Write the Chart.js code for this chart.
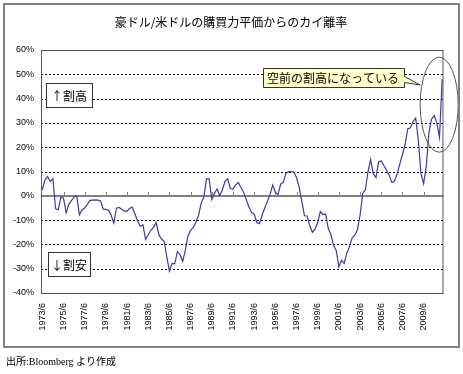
<!DOCTYPE html>
<html>
<head>
<meta charset="utf-8">
<script src="https://cdn.jsdelivr.net/npm/chart.js@4.4.0/dist/chart.umd.min.js"></script>
<style>
  html, body { margin: 0; padding: 0; background: #fff; }
</style>
</head>
<body>
<canvas id="pppChart" width="463" height="374"></canvas>
<script>
const chartTitle = '豪ドル/米ドルの購買力平価からのカイ離率';
const sourceNote = '出所:Bloomberg より作成';
const noteHigh = '↑割高';
const noteLow = '↓割安';
const calloutText = '空前の割高になっている';

// quarterly, starting 1973/6
const startYear = 1973;
const startMonth = 6;
const labelEvery = 8;

// deviation from PPP (%)
const deviation = [
    2.5, 6.6, 7.9, 6, 7, -5.3, -5.8, -0.5, -1, -7,
    -3.5, -2, -0.5, 0, -7.8, -5.8, -5, -3.5, -1.9, -1.8,
    -1.7, -1.8, -2.2, -5.5, -5.6, -6, -8, -11.2, -5.1, -4.8,
    -5.5, -6.3, -6.3, -5.1, -4.7, -7.5, -10.5, -12.5, -12, -18,
    -16, -14.2, -13, -11, -16, -17.8, -18.7, -25, -31, -27.8,
    -28, -23, -24.2, -27, -22.5, -16.5, -14.2, -13, -11, -8,
    -3, -0.5, 7, 7, -1.5, 1, 2.8, 0, 2.5, 6,
    7, 3, 2.8, 4.5, 5.5, 3.4, 1.5, -1.5, -4.5, -6.8,
    -7.5, -11, -11.5, -8, -5, -2.3, 0.5, 4.5, 1.5, 0.5,
    4.8, 5.5, 9.2, 10, 10, 9.8, 7.5, 3.5, -2.2, -8.2,
    -8.3, -12.2, -15, -13.7, -11, -6.5, -7.7, -7.5, -13.5, -16,
    -20.5, -22.5, -29.3, -26.5, -27.8, -23.5, -21, -17.3, -16.2, -14,
    -8, 1, 2.5, 10, 15, 9, 7.5, 14, 14.3, 12.5,
    10.5, 8.5, 5.5, 6, 9, 13, 17, 21, 27.5, 28,
    30.5, 32, 23, 9, 5, 12, 26, 31.5, 33, 30,
    24, 48
];

const yMin = -40;
const yMax = 60;
const gridValues = [50, 40, 30, 20, 10, -10, -20, -30];

const quarters = deviation.map((_, i) => {
    const m = startMonth - 1 + i * 3;
    return (startYear + Math.floor(m / 12)) + '/' + (m % 12 + 1);
});

const jpFont = '"Noto Sans CJK JP", sans-serif';

function labelBox(ctx, text, x, y, w, h) {
    ctx.fillStyle = '#fff';
    ctx.fillRect(x, y, w, h);
    ctx.strokeStyle = '#333';
    ctx.lineWidth = 1;
    ctx.strokeRect(x + 0.5, y + 0.5, w, h);
    ctx.fillStyle = '#000';
    ctx.font = '12px ' + jpFont;
    ctx.textAlign = 'center';
    ctx.textBaseline = 'middle';
    ctx.fillText(text, x + w / 2, y + h / 2 + 1);
}

const decor = {
    id: 'decor',
    beforeDatasetsDraw(chart) {
        const { ctx, chartArea: a, scales: { x, y } } = chart;
        ctx.save();
        // dashed grid
        ctx.strokeStyle = '#000';
        ctx.lineWidth = 1;
        ctx.setLineDash([2, 2]);
        gridValues.forEach(v => {
            const py = Math.round(y.getPixelForValue(v)) + 0.5;
            ctx.beginPath();
            ctx.moveTo(a.left, py);
            ctx.lineTo(a.right, py);
            ctx.stroke();
        });
        ctx.setLineDash([]);
        // zero line with category ticks
        const y0 = Math.round(y.getPixelForValue(0));
        ctx.strokeStyle = '#808080';
        ctx.lineWidth = 2;
        ctx.beginPath();
        ctx.moveTo(a.left, y0);
        ctx.lineTo(a.right, y0);
        ctx.stroke();
        ctx.lineWidth = 1;
        for (let i = labelEvery; i < quarters.length; i += labelEvery) {
            const px = Math.round(x.getPixelForValue(i)) + 0.5;
            ctx.beginPath();
            ctx.moveTo(px, y0);
            ctx.lineTo(px, y0 - 4);
            ctx.stroke();
        }
        // plot frame
        ctx.strokeStyle = '#555';
        ctx.strokeRect(a.left + 0.5, a.top + 0.5, a.right - a.left - 1, a.bottom - a.top);
        ctx.restore();
    },
    afterDraw(chart) {
        const { ctx, chartArea: a, scales: { x, y } } = chart;
        ctx.save();

        labelBox(ctx, noteHigh, a.left + 5, 83, 46, 24);
        labelBox(ctx, noteLow, a.left + 7, 252, 42, 24);

        // ellipse round the latest readings
        const n = deviation.length;
        const ex = x.getPixelForValue(n - 2.5) + 1;
        const ey = y.getPixelForValue(37.5);
        ctx.strokeStyle = '#555';
        ctx.lineWidth = 1;
        ctx.beginPath();
        ctx.ellipse(ex, ey, 19, 47.5, 0, 0, Math.PI * 2);
        ctx.stroke();

        // callout
        const bx = 263, by = 68, bw = 141, bh = 19;
        ctx.fillStyle = '#ffffcc';
        ctx.strokeStyle = '#333';
        ctx.beginPath();
        ctx.moveTo(bx + 0.5, by + 0.5);
        ctx.lineTo(bx + bw + 0.5, by + 0.5);
        ctx.lineTo(bx + bw + 0.5, by + 8.5);
        ctx.lineTo(ex - 19, by + 17);
        ctx.lineTo(bx + bw + 0.5, by + 14.5);
        ctx.lineTo(bx + bw + 0.5, by + bh + 0.5);
        ctx.lineTo(bx + 0.5, by + bh + 0.5);
        ctx.closePath();
        ctx.fill();
        ctx.stroke();
        ctx.fillStyle = '#000';
        ctx.font = '12px ' + jpFont;
        ctx.textAlign = 'left';
        ctx.textBaseline = 'middle';
        ctx.fillText(calloutText, bx + 4, by + bh / 2 + 1);

        // title
        ctx.font = '12px ' + jpFont;
        ctx.textAlign = 'center';
        ctx.fillText(chartTitle, 231, 22);

        // outer frame
        ctx.strokeStyle = '#808080';
        ctx.lineWidth = 2;
        ctx.strokeRect(4, 4, 455, 343);

        // source
        ctx.font = '10px "Liberation Serif", ' + jpFont;
        ctx.textAlign = 'left';
        ctx.fillText(sourceNote, 6, 362);
        ctx.restore();
    }
};

new Chart(document.getElementById('pppChart'), {
    type: 'line',
    data: {
        labels: quarters,
        datasets: [{
            data: deviation,
            borderColor: '#3a3aa8',
            borderWidth: 1.2,
            pointRadius: 0,
            tension: 0,
            fill: false
        }]
    },
    options: {
        responsive: false,
        animation: false,
        devicePixelRatio: 1,
        layout: { padding: { left: 4, right: 17, top: 50, bottom: 36 } },
        plugins: {
            legend: { display: false },
            tooltip: { enabled: false }
        },
        scales: {
            x: {
                type: 'category',
                offset: true,
                grid: { display: false, drawTicks: false },
                border: { display: false },
                afterFit: s => { s.height = 45; },
                ticks: {
                    autoSkip: false,
                    maxRotation: 90,
                    minRotation: 90,
                    padding: 10,
                    color: '#000',
                    font: { family: '"Liberation Sans", Arial', size: 9 },
                    callback: (v, i) => (i % labelEvery === 0 ? quarters[i] : '')
                }
            },
            y: {
                min: yMin,
                max: yMax,
                grid: { display: false, drawTicks: false },
                border: { display: false },
                afterFit: s => { s.width = 37; },
                ticks: {
                    stepSize: 10,
                    padding: 7,
                    color: '#000',
                    font: { family: '"Liberation Sans", Arial', size: 9 },
                    callback: v => v + '%'
                }
            }
        }
    },
    plugins: [decor]
});
</script>
</body>
</html>
